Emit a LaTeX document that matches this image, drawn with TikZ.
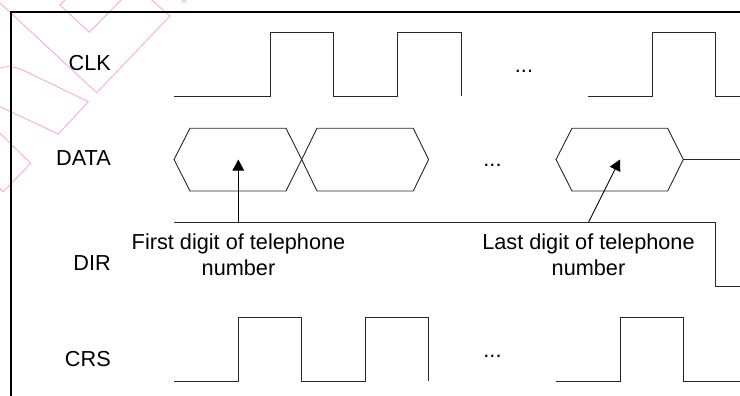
\documentclass[tikz,border=0pt]{standalone}
\usepackage{fontspec}
\setmainfont{Liberation Sans}
\usetikzlibrary{arrows.meta}
\definecolor{wmpink}{RGB}{255,160,208}
\definecolor{sigcol}{RGB}{40,40,40}
\begin{document}
\begin{tikzpicture}[x=1pt,y=-1pt,
  sig/.style={draw=sigcol,line width=0.9pt},
  wm/.style={draw=wmpink,line width=0.8pt},
  frame/.style={draw=black,line width=2pt},
  lbl/.style={font=\fontsize{21.7}{25.7}\selectfont,inner sep=0pt,text=black},
  ptr/.style={draw=black,line width=0.9pt,-{Triangle[length=11pt,width=11.5pt]}}]
\useasboundingbox (0,0) rectangle (740,396);
\begin{scope}
\clip (0,0) rectangle (740,396);
% watermark fragments
\draw[wm] (65,0) -- (60,5) -- (89.3,32.3) -- (121,0);
\draw[wm] (0,3) -- (96.7,92.7) -- (170,16) -- (151.7,0);
\draw[wm] (182,0) -- (184,2) -- (186,0);
\draw[wm] (0,68.3) .. controls (10,64) and (22,69) .. (33,75) -- (88.3,101.7) -- (58.3,134) -- (0,106.7);
\draw[wm] (0,133.3) -- (30.7,163.3) -- (3.3,191.7) -- (0,188.5);
% frame
\draw[frame] (11,400) -- (11,11.7) -- (745,11.7);
\end{scope}
% signal names
\node[lbl,anchor=base east] (nclk) at (111,70.7) {CLK};
\node[lbl,anchor=base east] (ndata) at (111,165.7) {DATA};
\node[lbl,anchor=base east] (ndir) at (111,270) {DIR};
\node[lbl,anchor=base east] (ncrs) at (111,366.7) {CRS};
% ellipses
\node[lbl,anchor=base] (dclk) at (524,73) {...};
\node[lbl,anchor=base] (ddata) at (492.5,167) {...};
\node[lbl,anchor=base] (dcrs) at (492.5,357) {...};
% CLK
\draw[sig] (174,96.3) -- (270,96.3) -- (270,32.7) -- (333,32.7) -- (333,96.3) -- (397,96.3) -- (397,32.7) -- (461,32.7) -- (461,96.3);
\draw[sig] (588,96.3) -- (652,96.3) -- (652,32.7) -- (715,32.7) -- (715,96.3) -- (740,96.3);
% DATA
\draw[sig] (174,159.5) -- (190,128.3) -- (286,128.3) -- (301.7,159.5) -- (286,191) -- (190,191) -- cycle;
\draw[sig] (301.7,159.5) -- (317,128.3) -- (413.3,128.3) -- (428.6,159.5) -- (413.3,191) -- (317,191) -- cycle;
\draw[sig] (556,159.5) -- (572,128.3) -- (667.7,128.3) -- (683.3,159.5) -- (667.7,191) -- (572,191) -- cycle;
\draw[sig] (683.3,159.5) -- (740,159.5);
% DIR
\draw[sig] (174,222.7) -- (715,222.7) -- (715,286) -- (740,286);
% CRS
\draw[sig] (174,381) -- (238.3,381) -- (238.3,317.7) -- (301.7,317.7) -- (301.7,381) -- (365,381) -- (365,317.7) -- (428.3,317.7) -- (428.3,381);
\draw[sig] (556,381) -- (620,381) -- (620,317.7) -- (683.3,317.7) -- (683.3,381) -- (740,381);
% pointers
\coordinate (p1s) at (238.3,222.7);
\coordinate (p1e) at (238.3,159.5);
\coordinate (p2s) at (588.3,222.7);
\coordinate (p2e) at (620,159.5);
\draw[ptr] (p1s) -- (p1e);
\draw[ptr] (p2s) -- (p2e);
% annotations
\node[lbl,align=center,anchor=north] (first) at (238.5,233.6) {First digit of telephone\\number};
\node[lbl,align=center,anchor=north] (last) at (588.5,233.6) {Last digit of telephone\\number};
\end{tikzpicture}
\end{document}
